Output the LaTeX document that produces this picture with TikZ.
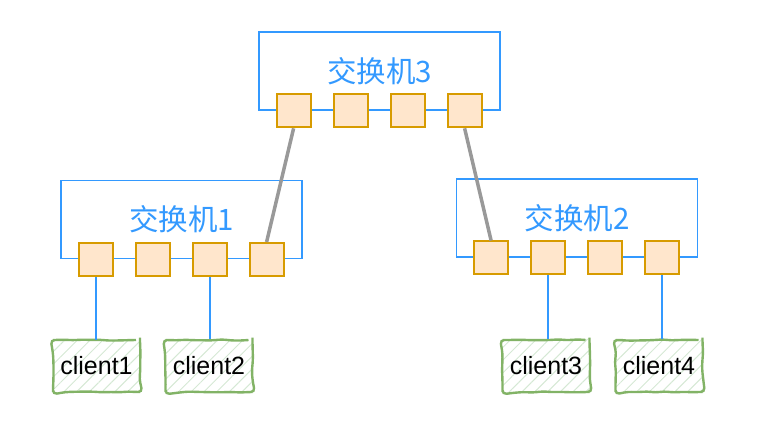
\documentclass[tikz,border=0pt]{standalone}
\usepackage{fontspec}
\setmainfont{Liberation Sans}
\newfontfamily\cjk{Noto Sans CJK SC}
\usepackage{tikz}
\usetikzlibrary{positioning}
\usetikzlibrary{calc}
\usetikzlibrary{patterns.meta}
\usetikzlibrary{decorations.pathmorphing}
\definecolor{swblue}{HTML}{3399FF}
\definecolor{portfill}{HTML}{FFE6CC}
\definecolor{portline}{HTML}{D79B00}
\definecolor{clientline}{HTML}{82B366}
\definecolor{clienthatch}{HTML}{D5E8D4}
\definecolor{linkgray}{HTML}{999999}
\tikzset{
	switch/.style={
		draw=swblue, line width=1.8pt, minimum width=241pt, minimum height=78pt,
		text=swblue, font=\cjk\fontsize{29.5}{31}\selectfont
	},
	port/.style={
		draw=portline, fill=portfill, line width=1.8pt,
		minimum width=34pt, minimum height=33pt, inner sep=0pt
	},
	client/.style={
		draw=clientline, line width=2.4pt, rounded corners=4pt,
		minimum width=87pt, minimum height=52pt, inner sep=0pt,
		pattern={Lines[angle=45,distance=9pt,line width=1pt]}, pattern color=clienthatch,
		decorate, decoration={random steps, segment length=9pt, amplitude=0.7pt},
		font=\fontsize{25}{27}\selectfont
	},
	uplink/.style={draw=linkgray, line width=3.5pt},
	wire/.style={draw=swblue, line width=1.8pt}
}
\def\ports#1{\foreach \i in {1,...,4}{\node[port] (#1-p\i) at ($(#1.south west)+(35.5+57*\i-57,0)$) {};}}

\begin{document}
\begin{tikzpicture}[x=1pt, y=-1pt]
    \useasboundingbox (0,0) rectangle (757,443);

    \node[switch] (sw3) at (379.5,71) {交换机3};
    \node[switch] (sw1) at (181.5,219.5) {交换机1};
    \node[switch] (sw2) at (577,218) {交换机2};
    \ports{sw3}
    \ports{sw1}
    \ports{sw2}

    \node[client] (client1) at (96.5,366) {client1};
    \node[client] (client2) at (209,366) {client2};
    \node[client] (client3) at (546,366) {client3};
    \node[client] (client4) at (659,366) {client4};

    \draw[uplink] (sw3-p1.south) -- (sw1-p4.north);
    \draw[uplink] (sw3-p4.south) -- (sw2-p1.north);

    \draw[wire] (sw1-p1.south) -- (sw1-p1.south |- client1.north);
    \draw[wire] (sw1-p3.south) -- (sw1-p3.south |- client2.north);
    \draw[wire] (sw2-p2.south) -- (sw2-p2.south |- client3.north);
    \draw[wire] (sw2-p4.south) -- (sw2-p4.south |- client4.north);
\end{tikzpicture}
\end{document}
